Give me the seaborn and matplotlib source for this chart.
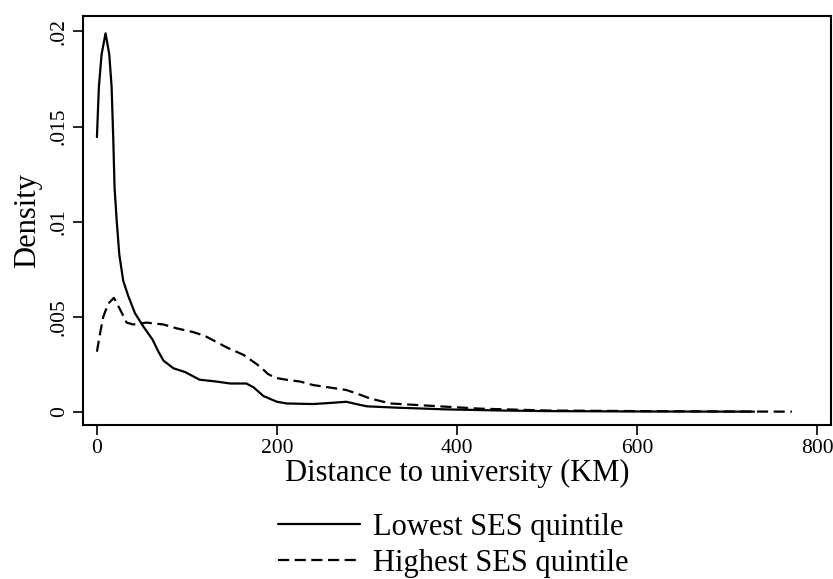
import pandas as pd
import matplotlib
matplotlib.use('Agg')
import matplotlib.pyplot as plt
import seaborn as sns

# valores (densidade kernel por distancia)
x_baixo = [0, 2.2, 5.2, 9.6, 13.7, 16.3, 18.1, 19.6, 21.9, 24.8, 29.2, 34.8, 42.2, 51.5, 61.9,
           68, 74, 85, 98, 106, 114, 133, 148, 166, 174, 185, 200, 211, 240, 260, 277, 290,
           300, 333, 388, 450, 500, 600, 730]
y_baixo = [0.01445, 0.0171, 0.0188, 0.0199, 0.0188, 0.0171, 0.01445, 0.0118, 0.0101, 0.0083,
           0.0069, 0.0061, 0.0052, 0.0045, 0.0038, 0.0032, 0.0027, 0.0023, 0.0021, 0.0019,
           0.0017, 0.0016, 0.0015, 0.0015, 0.0013, 0.00084, 0.00054, 0.00045, 0.00042,
           0.00048, 0.00054, 0.0004, 0.0003, 0.00023, 0.00014, 0.00008, 0.00005, 0.00003,
           0.00002]

x_alto = [0, 3, 7, 12.6, 18.9, 25.6, 33, 40.4, 55, 74, 88.5, 107, 120, 144, 163, 181, 190,
          198, 210, 226, 240, 277, 290, 303, 326, 370, 425, 500, 600, 700, 772]
y_alto = [0.00317, 0.0040, 0.0050, 0.0057, 0.0060, 0.0054, 0.0047, 0.0046, 0.0047, 0.0046,
          0.0044, 0.0042, 0.0040, 0.0034, 0.0030, 0.0024, 0.0020, 0.0018, 0.0017, 0.0016,
          0.00142, 0.00116, 0.00095, 0.00072, 0.00045, 0.00033, 0.00018, 0.00008, 0.00005,
          0.00003, 0.00002]

rotulos = ['Lowest SES quintile', 'Highest SES quintile']
ticks_x = [0, 200, 400, 600, 800]
ticks_y = [0, 0.005, 0.01, 0.015, 0.02]
labels_y = ['0', '.005', '.01', '.015', '.02']

df = pd.concat([
    pd.DataFrame({'dist': x_baixo, 'dens': y_baixo, 'grupo': rotulos[0]}),
    pd.DataFrame({'dist': x_alto, 'dens': y_alto, 'grupo': rotulos[1]}),
])

sns.set_style('white')
plt.rcParams['font.family'] = ['Liberation Serif', 'DejaVu Serif']
plt.rcParams['text.color'] = 'black'
plt.rcParams['axes.labelcolor'] = 'black'

fig = plt.figure(figsize=(8.33, 5.79), dpi=100)
ax = fig.add_axes([0.0996, 0.266, 0.898, 0.706])

sns.lineplot(data=df, x='dist', y='dens', style='grupo', style_order=rotulos,
             dashes={rotulos[0]: '', rotulos[1]: (5, 2.5)}, color='black',
             linewidth=1.6, ax=ax)
for l in ax.get_lines():
    l.set_solid_joinstyle('round')

ax.set_xlim(-15.5, 815.5)
ax.set_ylim(-0.00068, 0.0208)
ax.set_xticks(ticks_x)
ax.set_yticks(ticks_y)
ax.set_yticklabels(labels_y, rotation=90, va='center')
ax.tick_params(direction='out', length=7, width=1.2, labelsize=15.5,
               bottom=True, left=True, pad=3, colors='black')
for s in ax.spines.values():
    s.set_color('black')
    s.set_linewidth(1.5)

ax.set_xlabel('Distance to university (KM)', fontsize=22, labelpad=1)
ax.set_ylabel('Density', fontsize=22, labelpad=6)

ax.legend(handles=ax.get_lines()[:2], labels=rotulos, loc='upper left',
          bbox_to_anchor=(278 / 833, 1 - 513 / 579), bbox_transform=fig.transFigure,
          frameon=False, fontsize=22, borderpad=0, borderaxespad=0,
          handlelength=2.69, handletextpad=0.43, labelspacing=0.22)

plt.savefig('out.png', dpi=100)
